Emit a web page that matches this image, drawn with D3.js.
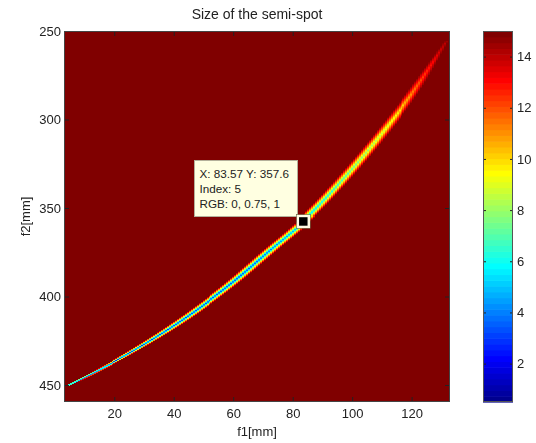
<!DOCTYPE html>
<html><head><meta charset="utf-8">
<script src="https://cdn.jsdelivr.net/npm/d3@7"></script>
<style>
body{margin:0;background:#fff;}
#wrap{position:relative;width:536px;height:443px;overflow:hidden;}
canvas,svg{position:absolute;left:0;top:0;}
text{font-family:"Liberation Sans",Arial,sans-serif;fill:#222;}
</style>
</head><body>
<div id="wrap"><canvas id="heat" width="536" height="443"></canvas><svg id="chart" width="536" height="443"></svg></div>
<script>
// ---------------- data ----------------
const titleText = "Size of the semi-spot";
const xLabel = "f1[mm]";
const yLabel = "f2[mm]";
const f1Domain = [3.1, 132.9];
const f2Domain = [250, 459.6];
const f1Ticks = [20, 40, 60, 80, 100, 120];
const f2Ticks = [250, 300, 350, 400, 450];
const cbTicks = [2, 4, 6, 8, 10, 12, 14];
const fieldMin = 0.5, fieldMax = 15;
// ridge (minimum valley) of the semi-spot size map
const ridgeF1 = [4.1, 11.8, 21.9, 42.1, 58.9, 72.4, 83.57, 99.3, 113.8, 120.0, 131.8];
const ridgeF2 = [450.5, 444.1, 435.0, 414.0, 393.1, 373.6, 357.6, 329.5, 299.7, 285.8, 255.6];
const ridgeMin = [1.5, 2.0, 2.5, 3.0, 3.2, 3.8, 5.0, 7.0, 9.2, 11.0, 14.2];
const ridgeHalfWidth = [0.9, 1.1, 1.4, 2.1, 2.3, 2.4, 2.4, 2.4, 2.3, 2.1, 0.8]; // f1 mm
const tipX = 83.57, tipY = 357.6, tipIndex = 5, tipRGB = "0, 0.75, 1";

// ---------------- layout ----------------
const L = 64, T = 31, R = 450, B = 402;
const CBL = 483, CBR = 513;
const x = d3.scaleLinear().domain(f1Domain).range([L, R]);
const y = d3.scaleLinear().domain(f2Domain).range([T, B]);

// MATLAB jet(64)
function jet(m) {
  const n = Math.ceil(m / 4);
  const u = [];
  for (let i = 1; i <= n; i++) u.push(i / n);
  for (let i = 0; i < n - 1; i++) u.push(1);
  for (let i = n; i >= 1; i--) u.push(i / n);
  const J = Array.from({length: m}, () => [0, 0, 0]);
  const g0 = Math.ceil(n / 2) - (m % 4 === 1 ? 1 : 0);
  for (let k = 0; k < u.length; k++) {
    const g = g0 + k + 1, r = g + n, b = g - n;
    if (r >= 1 && r <= m) J[r - 1][0] = u[k];
    if (g >= 1 && g <= m) J[g - 1][1] = u[k];
    if (b >= 1 && b <= m) J[b - 1][2] = u[k];
  }
  return J.map(c => c.map(v => Math.round(v * 255)));
}
const cmap = jet(64);
const color = d3.scaleQuantize().domain([fieldMin, fieldMax]).range(cmap);

// shape-preserving cubic (Fritsch–Butland) through the read ridge points, xs ascending
function monotone(xs, ys) {
  const n = xs.length, h = [], s = [], m = [];
  for (let i = 0; i < n - 1; i++) { h.push(xs[i + 1] - xs[i]); s.push((ys[i + 1] - ys[i]) / h[i]); }
  m[0] = s[0]; m[n - 1] = s[n - 2];
  for (let i = 1; i < n - 1; i++) {
    if (s[i - 1] * s[i] <= 0) m[i] = 0;
    else {
      const w1 = 2 * h[i] + h[i - 1], w2 = h[i] + 2 * h[i - 1];
      m[i] = (w1 + w2) / (w1 / s[i - 1] + w2 / s[i]);
    }
  }
  return t => {
    let i = d3.bisectRight(xs, t) - 1;
    i = Math.max(0, Math.min(n - 2, i));
    const u = (t - xs[i]) / h[i], u2 = u * u, u3 = u2 * u;
    return (2 * u3 - 3 * u2 + 1) * ys[i] + (u3 - 2 * u2 + u) * h[i] * m[i]
         + (-2 * u3 + 3 * u2) * ys[i + 1] + (u3 - u2) * h[i] * m[i + 1];
  };
}
const order = d3.range(ridgeF2.length).sort((p, q) => ridgeF2[p] - ridgeF2[q]);
const sF2 = order.map(k => ridgeF2[k]);
const centerOf = monotone(sF2, order.map(k => ridgeF1[k]));
const minOf = monotone(sF2, order.map(k => ridgeMin[k]));
const wOf = monotone(sF2, order.map(k => ridgeHalfWidth[k]));

// ---------------- heat map ----------------
const nx = 195, ny = 370;
const off = document.createElement("canvas");
off.width = nx; off.height = ny;
const octx = off.getContext("2d");
const img = octx.createImageData(nx, ny);
const f2Lo = d3.min(ridgeF2), f2Hi = d3.max(ridgeF2);
const dx = (f1Domain[1] - f1Domain[0]) / nx, dy = (f2Domain[1] - f2Domain[0]) / ny;
for (let j = 0; j < ny; j++) {
  const f2 = f2Domain[0] + (j + 0.5) * dy;
  const inRidge = f2 >= f2Lo && f2 <= f2Hi;
  const fc = centerOf(f2), c = minOf(f2), w = Math.max(0.3, wOf(f2));
  for (let i = 0; i < nx; i++) {
    const f1 = f1Domain[0] + (i + 0.5) * dx;
    let v = fieldMax;
    if (inRidge) v = Math.min(fieldMax, c + (fieldMax - c) * Math.abs(f1 - fc) / w);
    const col = color(v);
    const p = (j * nx + i) * 4;
    img.data[p] = col[0]; img.data[p + 1] = col[1]; img.data[p + 2] = col[2]; img.data[p + 3] = 255;
  }
}
octx.putImageData(img, 0, 0);
const ctx = document.getElementById("heat").getContext("2d");
ctx.imageSmoothingEnabled = false;
ctx.drawImage(off, x(f1Domain[0]), y(f2Domain[0]), x(f1Domain[1]) - x(f1Domain[0]), y(f2Domain[1]) - y(f2Domain[0]));

// ---------------- svg ----------------
const svg = d3.select("#chart");
const fs = "13px";

function styleAxis(g, labels) {
  g.select(".domain").remove();
  g.selectAll(".tick line").attr("stroke", "#222");
  g.selectAll(".tick text").style("font-size", fs).attr("fill", "#222");
  if (!labels) g.selectAll(".tick text").remove();
}
svg.append("g").attr("transform", `translate(0,${B})`)
  .call(d3.axisBottom(x).tickValues(f1Ticks).tickSizeInner(-5).tickSizeOuter(0).tickPadding(7))
  .call(g => styleAxis(g, true));
svg.append("g").attr("transform", `translate(0,${T})`)
  .call(d3.axisTop(x).tickValues(f1Ticks).tickSizeInner(-5).tickSizeOuter(0))
  .call(g => styleAxis(g, false));
svg.append("g").attr("transform", `translate(${L},0)`)
  .call(d3.axisLeft(y).tickValues(f2Ticks).tickSizeInner(-5).tickSizeOuter(0).tickPadding(3))
  .call(g => styleAxis(g, true));
svg.append("g").attr("transform", `translate(${R},0)`)
  .call(d3.axisRight(y).tickValues(f2Ticks).tickSizeInner(-5).tickSizeOuter(0))
  .call(g => styleAxis(g, false));
svg.append("rect").attr("x", L + 0.5).attr("y", T + 0.5).attr("width", R - L - 1).attr("height", B - T - 1)
  .attr("fill", "none").attr("stroke", "#444").attr("stroke-width", 1);

// title & labels
svg.append("text").attr("x", (L + R) / 2).attr("y", 19).attr("text-anchor", "middle").style("font-size", "14px").text(titleText);
svg.append("text").attr("x", (L + R) / 2).attr("y", 436).attr("text-anchor", "middle").style("font-size", fs).text(xLabel);
svg.append("text").attr("transform", `translate(30,${(T + B) / 2}) rotate(-90)`).attr("text-anchor", "middle").style("font-size", fs).text(yLabel);

// colorbar
const cb = d3.scaleLinear().domain([fieldMin, fieldMax]).range([B, T]);
const step = (fieldMax - fieldMin) / cmap.length;
svg.append("g").selectAll("rect").data(cmap).join("rect")
  .attr("x", CBL).attr("width", CBR - CBL)
  .attr("y", (d, i) => cb(fieldMin + (i + 1) * step))
  .attr("height", (d, i) => cb(fieldMin + i * step) - cb(fieldMin + (i + 1) * step) + 0.6)
  .attr("fill", d => `rgb(${d[0]},${d[1]},${d[2]})`);
svg.append("g").attr("transform", `translate(${CBR},0)`)
  .call(d3.axisRight(cb).tickValues(cbTicks).tickSizeInner(-3).tickSizeOuter(0).tickPadding(4))
  .call(g => styleAxis(g, true));
svg.append("g").attr("transform", `translate(${CBL},0)`)
  .call(d3.axisLeft(cb).tickValues(cbTicks).tickSizeInner(-3).tickSizeOuter(0))
  .call(g => styleAxis(g, false));
svg.append("rect").attr("x", CBL + 0.5).attr("y", T + 0.5).attr("width", CBR - CBL - 1).attr("height", B - T - 1)
  .attr("fill", "none").attr("stroke", "#555");

// data tip
const mx = x(tipX), my = y(tipY);
const bw = 103, bh = 56;
const bx = Math.round(mx - 6.5 - bw), by = Math.round(my - 5.5 - bh);
svg.append("rect").attr("x", bx + 0.5).attr("y", by + 0.5).attr("width", bw).attr("height", bh)
  .attr("fill", "#ffffe1").attr("stroke", "#b4b09a");
const lines = [`X: ${tipX} Y: ${tipY}`, `Index: ${tipIndex}`, `RGB: ${tipRGB}`];
svg.append("g").selectAll("text").data(lines).join("text")
  .attr("x", bx + 5.5).attr("y", (d, i) => by + 17.5 + i * 15)
  .style("font-size", "11.7px").text(d => d);
svg.append("rect").attr("x", mx - 5.5).attr("y", my - 5.5).attr("width", 11).attr("height", 11)
  .attr("fill", "#000").attr("stroke", "#fffbe4").attr("stroke-width", 2.5);
svg.append("rect").attr("x", mx - 7).attr("y", my - 7).attr("width", 14).attr("height", 14)
  .attr("fill", "none").attr("stroke", "#6b6040").attr("stroke-width", 0.6);
</script>
</body></html>
